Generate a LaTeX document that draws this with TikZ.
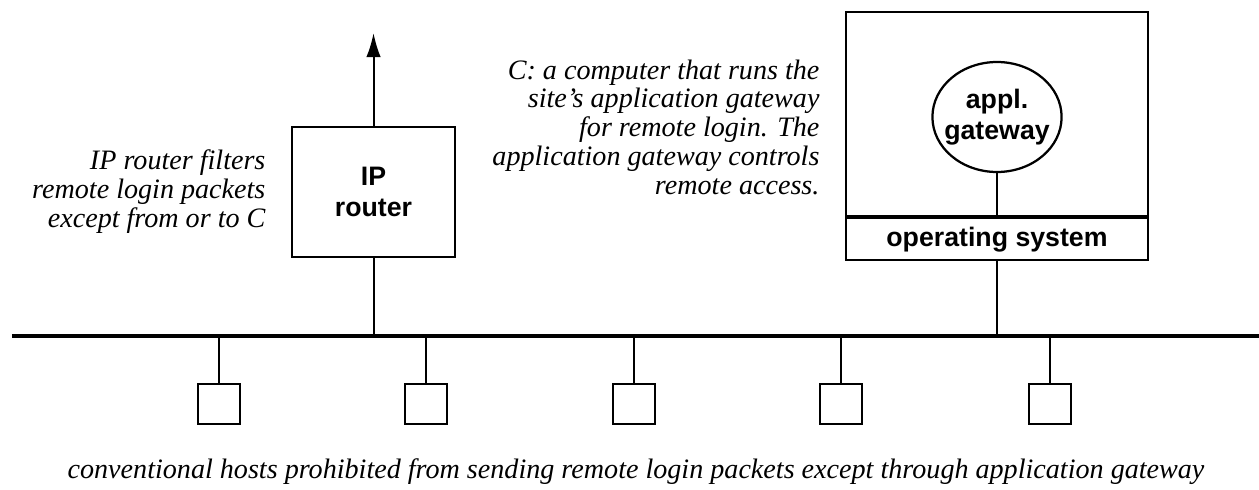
\documentclass[tikz,border=0pt]{standalone}
\usepackage{fontspec}
\setmainfont{Liberation Serif}
\setsansfont{Liberation Sans}
\usetikzlibrary{arrows.meta,shapes.geometric,positioning}

\begin{document}
\begin{tikzpicture}[
    box/.style={draw, line width=0.8pt, inner sep=0pt},
    lbl/.style={font=\sffamily\bfseries\fontsize{9.5}{11}\selectfont, align=center},
    note/.style={font=\itshape\fontsize{10}{10.3}\selectfont, align=right, inner sep=0pt},
    host/.style={box, minimum width=0.525cm, minimum height=0.5cm},
    wire/.style={line width=0.7pt}
  ]
    \useasboundingbox (0,0) rectangle (15.7375,6.1125);

    % network
    \coordinate (busL) at (0.15,1.9125);
    \coordinate (busR) at (15.7375,1.9125);
    \draw[line width=1.2pt] (busL) -- (busR);

    % IP router
    \node[box, lbl, minimum width=2.04cm, minimum height=1.625cm] (router) at (4.669,3.7125) {IP\\router};
    \coordinate (outside) at (4.669,5.7);
    \draw[wire, -{Latex[length=0.3cm,width=0.18cm]}] (router.north) -- (outside);
    \draw[wire] (router.south) -- (router.south |- busL);
    \node[note, left=0.31cm of router] (rnote) {IP router filters\\remote login packets\\except from or to C};

    % computer C
    \node[box, minimum width=3.775cm, minimum height=2.55cm] (cbox) at (12.4625,4.6875) {};
    \node[box, lbl, minimum width=3.775cm, minimum height=0.525cm, anchor=north] (os) at (cbox.south) {operating system};
    \node[ellipse, box, lbl, inner xsep=-2.5pt, minimum width=1.61cm, minimum height=1.375cm] (gw) at (12.4625,4.65) {appl.\\gateway};
    \draw[wire] (gw.south) -- (os.north);
    \draw[wire] (os.south) -- (os.south |- busL);
    \node[note, anchor=east] (cnote) at (10.25,4.52) {C: a computer that runs the\\site's application gateway\\for remote login.  The\\application gateway controls\\remote access.};

    % conventional hosts
    \foreach \i/\x in {1/2.7375, 2/5.325, 3/7.925, 4/10.5125, 5/13.125} {
      \node[host] (host\i) at (\x,1.0625) {};
      \draw[wire] (host\i.north) -- (host\i.north |- busL);
    }
    \node[note, align=center] (caption) at (7.95,0.2125) {conventional hosts prohibited from sending remote login packets except through application gateway};
\end{tikzpicture}
\end{document}
